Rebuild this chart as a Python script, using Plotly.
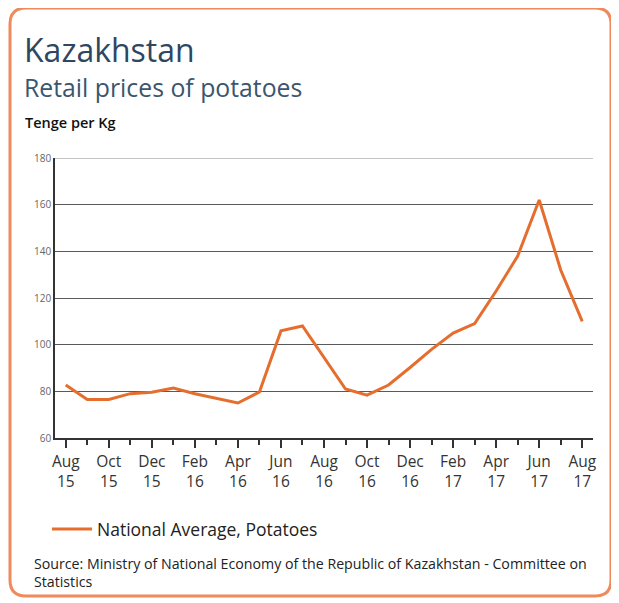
import plotly.graph_objects as go

months = ["Aug 15", "Sep 15", "Oct 15", "Nov 15", "Dec 15", "Jan 16", "Feb 16", "Mar 16",
          "Apr 16", "May 16", "Jun 16", "Jul 16", "Aug 16", "Sep 16", "Oct 16", "Nov 16",
          "Dec 16", "Jan 17", "Feb 17", "Mar 17", "Apr 17", "May 17", "Jun 17", "Jul 17", "Aug 17"]
prices = [82.7, 76.5, 76.5, 79.0, 79.6, 81.4, 79.0, 77.1, 75.0, 79.7, 105.9, 108.0, 94.5,
          81.0, 78.4, 82.7, 90.2, 98.0, 105.0, 109.0, 123.0, 138.0, 162.0, 132.0, 110.0]
y_ticks = [60, 80, 100, 120, 140, 160, 180]
series_name = "National Average, Potatoes"

x = list(range(len(months)))
major = x[::2]
minor = x[1::2]
ticktext = [m.replace(" ", "<br>") for m in months[::2]]

FONT = "Open Sans"
OFF = 8  # page offset of the figure inside the browser window
W, H = 619 - OFF, 603 - OFF
L, T = 55 - OFF, 158 - OFF
pw, ph = 538, 280
R, B = W - L - pw, H - T - ph


def px(v):
    return (v - OFF - L) / pw


def py(v):
    return (T + ph - (v - OFF)) / ph


fig = go.Figure()
fig.add_trace(go.Scatter(x=x, y=prices, mode="lines", name=series_name,
                         line=dict(color="#E56E2E", width=3)))

fig.update_layout(
    width=W, height=H,
    margin=dict(l=L, r=R, t=T, b=B),
    paper_bgcolor="white", plot_bgcolor="white",
    font=dict(family=FONT, color="#222"),
    showlegend=True,
    legend=dict(x=px(47), y=py(529), xanchor="left", yanchor="middle", itemwidth=40,
                font=dict(size=17.5, color="#222", family=FONT), bgcolor="rgba(0,0,0,0)"),
    xaxis=dict(range=[-0.5, 24.5], tickvals=major, ticktext=ticktext,
               ticks="outside", ticklen=8, tickwidth=1.5, tickcolor="#333",
               showline=True, linecolor="#333", linewidth=2, showgrid=False,
               zeroline=False, tickfont=dict(size=15.5, color="#333", family=FONT),
               minor=dict(tickvals=minor, ticks="outside", ticklen=5, tickwidth=1.5,
                          tickcolor="#333", showgrid=False)),
    yaxis=dict(range=[60, 180], tickvals=y_ticks, showline=True, linecolor="#333",
               linewidth=1.5, showgrid=True, gridcolor="#5a5a5a", gridwidth=1.3,
               zeroline=False, ticks="", tickfont=dict(size=10, color="#666", family=FONT)),
)

# top gridline lighter
fig.add_shape(type="line", xref="paper", yref="y", x0=0, x1=1, y0=180, y1=180,
              line=dict(color="#c4c4c4", width=2), layer="below")

# rounded border
x0, x1 = px(10), px(611)
y0, y1 = py(596), py(8)
rx, ry = 16 / pw, 16 / ph
path = (f"M {x0+rx},{y1} L {x1-rx},{y1} Q {x1},{y1} {x1},{y1-ry} "
        f"L {x1},{y0+ry} Q {x1},{y0} {x1-rx},{y0} L {x0+rx},{y0} "
        f"Q {x0},{y0} {x0},{y0+ry} L {x0},{y1-ry} Q {x0},{y1} {x0+rx},{y1} Z")
fig.add_shape(type="path", xref="paper", yref="paper", path=path,
              line=dict(color="#EE8A5C", width=3), layer="below")

fig.add_annotation(text="Kazakhstan", xref="paper", yref="paper", x=px(22), y=py(49),
                   xanchor="left", yanchor="middle", showarrow=False,
                   font=dict(size=32, color="#2E4760", family=FONT))
fig.add_annotation(text="Retail prices of potatoes", xref="paper", yref="paper",
                   x=px(22), y=py(87), xanchor="left", yanchor="middle", showarrow=False,
                   font=dict(size=24.8, color="#3A566F", family=FONT))
fig.add_annotation(text="Tenge per Kg", xref="paper", yref="paper", x=px(23), y=py(122),
                   xanchor="left", yanchor="middle", showarrow=False,
                   font=dict(size=14.5, color="#111", family=FONT, weight=600))
fig.add_annotation(text="Source: Ministry of National Economy of the Republic of Kazakhstan - Committee on<br>Statistics",
                   xref="paper", yref="paper", x=px(32), y=py(572), xanchor="left",
                   yanchor="middle", align="left", showarrow=False,
                   font=dict(size=14.2, color="#222", family=FONT))

fig.write_html("out.html")
